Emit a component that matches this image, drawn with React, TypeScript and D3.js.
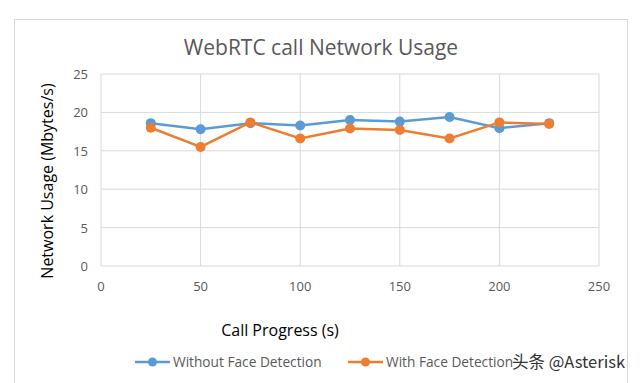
import React from "react";
import * as d3 from "d3";

const xValues = [25, 50, 75, 100, 125, 150, 175, 200, 225];
const withoutFace = [18.6, 17.8, 18.6, 18.3, 19.0, 18.8, 19.4, 17.95, 18.6];
const withFace = [18.0, 15.5, 18.7, 16.6, 17.9, 17.7, 16.6, 18.7, 18.5];
const xTicks = [0, 50, 100, 150, 200, 250];
const yTicks = [0, 5, 10, 15, 20, 25];
const seriesNames = ["Without Face Detection", "With Face Detection"];
const colors = ["#5B9BD5", "#ED7D31"];

const W = 640;
const H = 383;
const FONT = "'Open Sans', 'Liberation Sans', sans-serif";

export default function App() {
  const x = d3.scaleLinear().domain([0, 250]).range([101, 599]);
  const y = d3.scaleLinear().domain([0, 25]).range([266, 74]);
  const line = d3
    .line<[number, number]>()
    .x((d) => x(d[0]))
    .y((d) => y(d[1]));
  const series = [withoutFace, withFace];

  return (
    <svg
      width={W}
      height={H}
      style={{ position: "absolute", left: 0, top: 0, background: "#fff" }}
      fontFamily={FONT}
    >
      <rect x={14.5} y={19.5} width={613} height={400} fill="#fff" stroke="#d9d9d9" />
      <text x={321} y={55} textAnchor="middle" fontSize={21} fill="#595959">
        WebRTC call Network Usage
      </text>
      {yTicks.map((t) => (
        <g key={"y" + t}>
          <line x1={x(0)} x2={x(250)} y1={y(t)} y2={y(t)} stroke="#d9d9d9" strokeWidth={1} />
          <text x={88} y={y(t) + 5} textAnchor="end" fontSize={13} fill="#595959">
            {t}
          </text>
        </g>
      ))}
      {xTicks.map((t) => (
        <g key={"x" + t}>
          <line x1={x(t)} x2={x(t)} y1={y(0)} y2={y(25)} stroke="#d9d9d9" strokeWidth={1} />
          <text x={x(t)} y={291} textAnchor="middle" fontSize={13} fill="#595959">
            {t}
          </text>
        </g>
      ))}
      <text
        transform={`translate(53,181) rotate(-90)`}
        textAnchor="middle"
        fontSize={16}
        fill="#000"
      >
        Network Usage (Mbytes/s)
      </text>
      <text x={280} y={336} textAnchor="middle" fontSize={16} fill="#000">
        Call Progress (s)
      </text>
      {series.map((vals, i) => {
        const pts = xValues.map((v, j) => [v, vals[j]] as [number, number]);
        return (
          <g key={"s" + i}>
            <path d={line(pts) || ""} fill="none" stroke={colors[i]} strokeWidth={2.5} />
            {pts.map((p, j) => (
              <circle key={j} cx={x(p[0])} cy={y(p[1])} r={5} fill={colors[i]} />
            ))}
          </g>
        );
      })}
      {seriesNames.map((name, i) => {
        const lx = i === 0 ? 135 : 348;
        return (
          <g key={"l" + i}>
            <line x1={lx} x2={lx + 35} y1={362} y2={362} stroke={colors[i]} strokeWidth={2.5} />
            <circle cx={lx + 17.5} cy={362} r={4.5} fill={colors[i]} />
            <text x={lx + 38} y={367} fontSize={13.7} fill="#595959">
              {name}
            </text>
          </g>
        );
      })}
      <text x={512} y={368} fontSize={16.5} fill="#333" fontFamily="'Noto Sans CJK SC', sans-serif">
        头条 @Asterisk
      </text>
    </svg>
  );
}
